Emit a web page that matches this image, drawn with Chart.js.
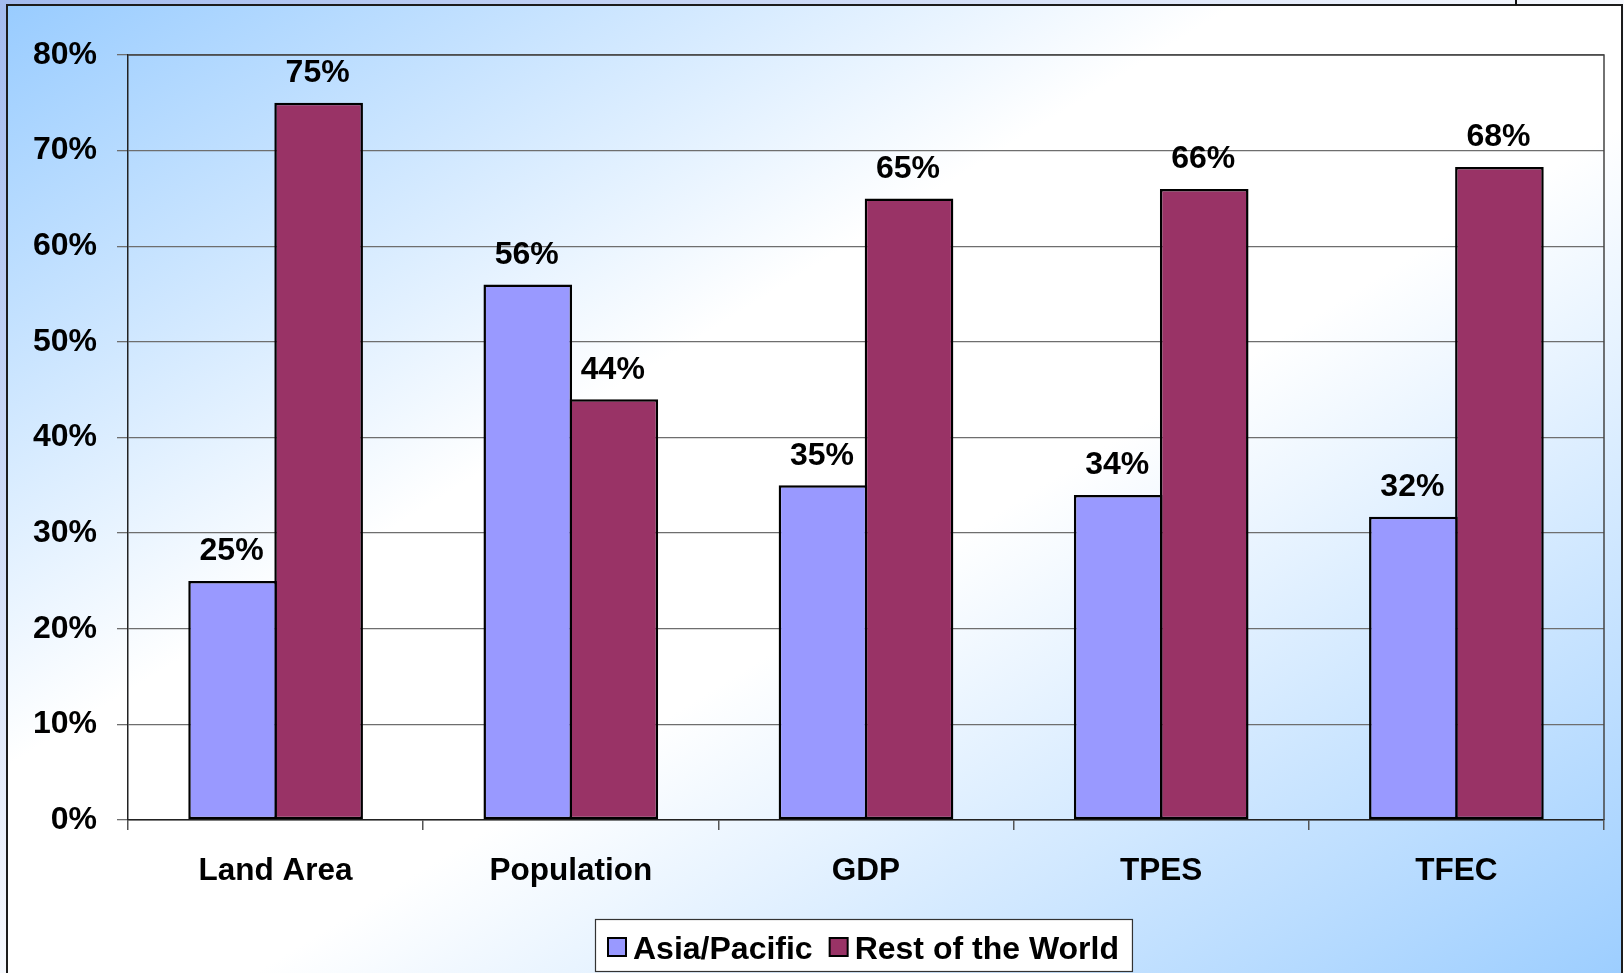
<!DOCTYPE html>
<html><head><meta charset="utf-8">
<script src="https://cdn.jsdelivr.net/npm/chart.js@4/dist/chart.umd.min.js"></script>
<style>
html,body{margin:0;padding:0;width:1624px;height:973px;overflow:hidden;}
body{background:linear-gradient(to bottom right,#a3bbef 0%,#ffffff 55%,#ffffff 100%);position:relative;}
#frame{position:absolute;left:6px;top:4px;width:1613px;height:1000px;border:2px solid #1c1c1c;
  background:linear-gradient(to bottom right,#99ccff 0%,#ffffff 38%,#ffffff 56%,#99ccff 100%);}
#notch{position:absolute;left:1515px;top:0;width:2px;height:5px;background:#111;}
canvas{position:absolute;left:0;top:0;}
</style></head>
<body><div id="frame"></div><div id="notch"></div>
<canvas id="c" width="1624" height="973"></canvas>
<script>
const categories = ['Land Area', 'Population', 'GDP', 'TPES', 'TFEC'];
const seriesNames = ['Asia/Pacific', 'Rest of the World'];
const asiaPacific = [25, 56, 35, 34, 31.7];
const restOfWorld = [75, 44, 65, 66, 68.3];
const asiaLabels = ['25%', '56%', '35%', '34%', '32%'];
const restLabels = ['75%', '44%', '65%', '66%', '68%'];
const yTickLabels = ['0%', '10%', '20%', '30%', '40%', '50%', '60%', '70%', '80%'];
const seriesColors = ['#9999FF', '#993366'];

const FONT = '"Liberation Sans", Arial, sans-serif';

const valueLabelPlugin = {
  id: 'valueLabels',
  afterDatasetsDraw(chart) {
    const ctx = chart.ctx;
    ctx.save();
    ctx.font = 'bold 32px ' + FONT;
    ctx.fillStyle = '#000';
    ctx.textAlign = 'center';
    ctx.textBaseline = 'alphabetic';
    chart.data.datasets.forEach((ds, i) => {
      const meta = chart.getDatasetMeta(i);
      meta.data.forEach((bar, j) => {
        ctx.fillText(ds.valueLabels[j], bar.x - 1, bar.y - 20.5);
      });
    });
    ctx.restore();
  }
};

const framePlugin = {
  id: 'plotFrame',
  afterDraw(chart) {
    const ctx = chart.ctx, a = chart.chartArea;
    ctx.save();
    ctx.strokeStyle = '#444';
    ctx.lineWidth = 1.5;
    ctx.beginPath();
    ctx.moveTo(a.left, a.top);
    ctx.lineTo(a.right, a.top);
    ctx.lineTo(a.right, a.bottom);
    ctx.stroke();
    ctx.restore();
  }
};

const legendPlugin = {
  id: 'boxLegend',
  afterDraw(chart) {
    const ctx = chart.ctx;
    ctx.save();
    ctx.font = 'bold 32px ' + FONT;
    const items = chart.data.datasets.map(d => ({text: d.label, color: d.backgroundColor, w: ctx.measureText(d.label).width}));
    const padL = 13, sq = 18, gapT = 7, gapI = 17, padR = 13;
    let total = padL + padR;
    items.forEach((it, i) => { total += sq + gapT + it.w + (i ? gapI : 0); });
    const cx = 863;
    const left = Math.round(cx - total / 2), top = 919, h = 52;
    ctx.fillStyle = '#fff';
    ctx.fillRect(left, top, total, h);
    ctx.strokeStyle = '#333';
    ctx.lineWidth = 1.2;
    ctx.strokeRect(left + 0.5, top + 0.5, total, h);
    let x = left + padL;
    items.forEach((it, i) => {
      if (i) x += gapI;
      ctx.fillStyle = it.color;
      ctx.fillRect(x, 938, sq, sq);
      ctx.strokeStyle = '#000';
      ctx.lineWidth = 2;
      ctx.strokeRect(x, 938, sq, sq);
      x += sq + gapT;
      ctx.fillStyle = '#000';
      ctx.textBaseline = 'alphabetic';
      ctx.textAlign = 'left';
      ctx.fillText(it.text, x, 959);
      x += it.w;
    });
    ctx.restore();
  }
};

new Chart(document.getElementById('c'), {
  type: 'bar',
  data: {
    labels: categories,
    datasets: [
      {label: seriesNames[0], data: asiaPacific, backgroundColor: seriesColors[0], borderColor: '#000',
       borderWidth: 2.5, borderSkipped: false, valueLabels: asiaLabels},
      {label: seriesNames[1], data: restOfWorld, backgroundColor: seriesColors[1], borderColor: '#000',
       borderWidth: 2.5, borderSkipped: false, valueLabels: restLabels}
    ]
  },
  options: {
    responsive: false,
    animation: false,
    devicePixelRatio: 1,
    layout: {padding: {left: 0, right: 20, top: 55, bottom: 0}},
    datasets: {bar: {categoryPercentage: 0.583, barPercentage: 1.03}},
    plugins: {legend: {display: false}, tooltip: {enabled: false}},
    scales: {
      x: {
        grid: {display: true, drawOnChartArea: false, drawTicks: true, tickLength: 10, color: '#555', lineWidth: 1.5},
        border: {color: '#222', width: 1.5},
        ticks: {font: {family: FONT, size: 31.5, weight: 'bold'}, color: '#000', padding: 22, maxRotation: 0},
        afterFit(s) { s.height = 153; }
      },
      y: {
        min: 0, max: 80,
        ticks: {stepSize: 10, callback: (v) => yTickLabels[Math.round(v / 10)],
                font: {family: FONT, size: 32, weight: 'bold'}, color: '#000', padding: 20},
        grid: {color: '#6e6e6e', lineWidth: 1.3, tickLength: 11},
        border: {color: '#222', width: 1.5},
        afterFit(s) { s.width = 128; }
      }
    }
  },
  plugins: [valueLabelPlugin, framePlugin, legendPlugin]
});
</script>
</body></html>
